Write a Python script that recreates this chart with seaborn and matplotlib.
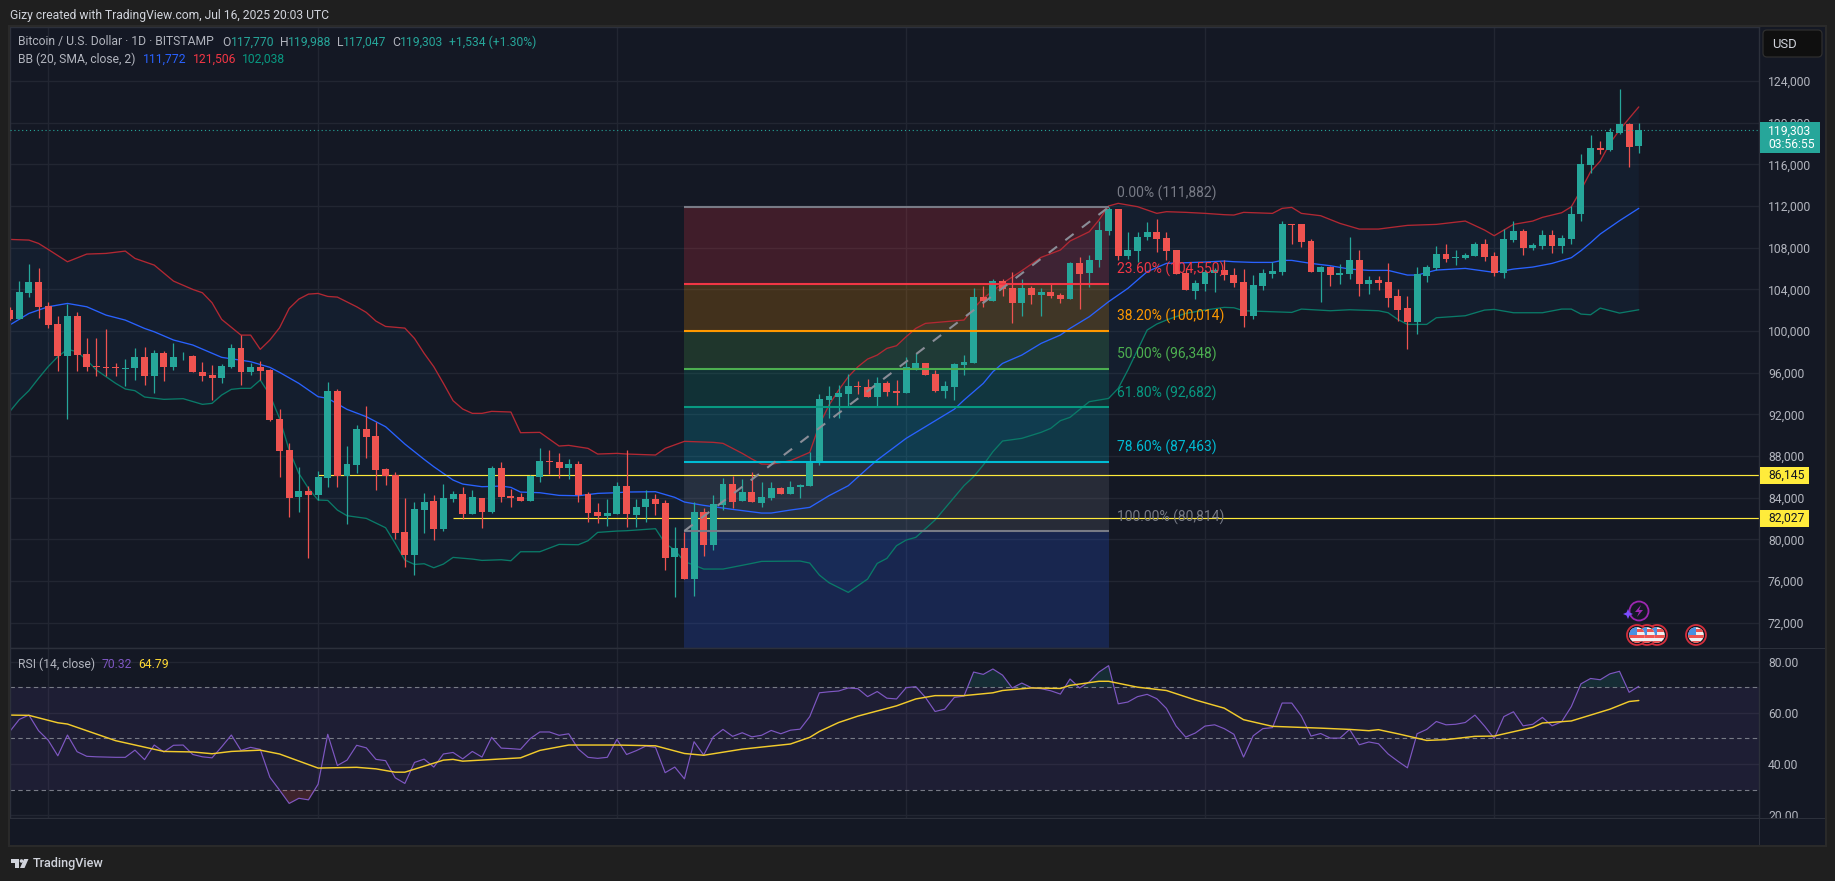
import numpy as np
import pandas as pd
import matplotlib
matplotlib.use('Agg')
import matplotlib.pyplot as plt
from matplotlib.patches import Rectangle, Circle, FancyBboxPatch, Polygon
from matplotlib.transforms import IdentityTransform
import seaborn as sns

# daily candles, day 0 = Jan 28 2025
opens = [102000,101140,103638,104695,102390,100662,97632,101430,97792,96640,96544,96544,96352,96448,97504,95680,97888,96544,97568,97600,
         96064,95776,95488,96544,98368,96064,96544,96256,91552,88576,84064,84640,84256,85888,94240,86080,87136,90592,89920,86752,
         86176,80704,78496,82816,83680,80992,83872,84352,82432,83968,82624,86848,84160,84064,83680,85984,87520,87424,86848,87232,
         84352,82624,82240,82432,85122,82338,83106,83874,83490,78306,79170,76194,82626,79458,83298,85314,83682,84546,83490,83970,
         84930,84354,85026,85122,87419,93371,93659,93947,94715,94619,93659,95003,94235,94043,96443,96923,95867,94235,94619,96731,
         96923,103259,102875,104795,104123,102683,104123,103451,103739,103451,103067,106523,105563,106811,109595,111707,107195,107675,109019,109499,
         108923,107771,105563,103835,104507,105563,105851,105371,104696,101432,104312,105464,105656,110264,110264,108632,105656,106136,105368,105464,
         106808,104504,104888,104696,103352,102200,100856,105272,106040,107384,106999,106999,107192,108344,107192,105560,108728,109592,107960,108152,
         109208,108152,108824,111224,115928,117560,117368,119000,119864,117770]
highs = [102300,104790,106422,106038,102774,101430,102582,101814,99296,99300,100182,96928,97312,98368,98464,98176,98080,98848,97984,97696,
         97024,96736,96832,98752,99606,96928,97120,96352,92512,89248,86944,85120,86560,95104,94432,88960,90976,92800,91264,86848,
         86464,83968,83584,84448,84256,85312,84640,85024,84736,83968,87040,87424,84832,84448,86176,88768,88576,88288,87712,87520,
         84544,83488,83872,85504,88578,83874,84738,84354,83778,81186,80706,83586,83010,84258,85890,86082,85794,86466,85506,85506,
         85026,85602,85314,88386,93947,94715,94811,95867,95195,95387,95579,95195,95291,97499,97883,96923,96251,95195,96923,97691,
         104123,104315,104987,104987,105659,104987,104315,104123,104603,103643,106619,107099,107291,110555,111899,111707,109499,109499,110459,110747,
         109499,107771,106043,104891,105851,106043,106811,106043,105944,105368,105944,106616,110552,110300,110264,108824,106232,106232,106424,109016,
         107768,105272,105272,106520,104024,103352,106136,106328,108152,108344,107768,107480,108536,108824,107576,109784,110552,109784,108440,109688,
         109688,109208,111992,116984,118808,118232,119480,123224,119960,119988]
lows = [101100,101140,103254,101238,100278,96160,91552,96160,96160,95680,95680,95680,94720,95296,94816,94048,95200,96256,97216,96064,
        95200,93376,95008,96448,94816,95776,95296,91360,85984,82144,82624,78208,83776,85024,85024,81472,86368,87808,84736,85216,
        80032,77344,76576,80608,79936,80800,83584,81952,82432,81088,82528,83584,83104,83680,83680,85504,86272,85888,85792,83584,
        81664,81568,81280,82432,81186,81186,81666,82338,77058,74466,76194,74562,78402,78978,82818,83010,83682,83586,83106,83778,
        84354,84354,83970,85122,87131,91643,91643,92795,93947,93659,92795,93755,92891,94043,96251,95771,94139,93563,93371,95771,
        96923,102299,102875,103355,100763,101435,102587,101435,103163,102683,103067,102107,104219,106139,109211,106811,106907,106619,108731,107579,
        106811,105467,103931,103067,103835,103739,104891,104219,100376,101144,103928,105080,105368,108344,108056,105656,102776,104312,104504,104984,
        103352,103544,103928,102296,100952,98264,99704,104696,105848,106616,106328,106904,107192,106712,105272,105080,108536,107288,107768,107864,
        107480,107480,108344,110552,115160,116984,117272,118904,115736,117047]
closes = [101140,103734,104695,102294,100566,97632,101430,97728,96544,96544,96448,96448,96448,97504,95680,97888,96544,97504,97600,96064,
          95680,95488,96640,98368,96064,96544,96160,91456,88480,83968,84640,84256,85984,94240,86080,87232,90592,89824,86656,86080,
          80608,78496,82912,83584,80992,83968,84352,82432,84064,82624,86848,84064,83968,83680,86080,87520,87424,86848,87232,84256,
          82528,82240,82528,85120,82434,83106,83874,83394,78210,79170,76194,82626,79458,83394,85314,83586,84546,83586,84066,84930,
          84354,85026,85218,87426,93467,93755,94043,94715,94619,93659,95003,94139,94043,96539,96923,95771,94235,94715,96827,97019,
          103259,102875,104795,104027,102683,104123,103451,103739,103355,103067,106523,105467,106811,109691,111707,107195,107771,109019,109499,108827,
          107675,105467,103931,104603,105659,105851,105371,104603,101432,104408,105560,105752,110264,110168,108536,105656,106136,105368,105560,106808,
          104504,104888,104600,103160,102008,100856,105464,106136,107384,106904,107096,107288,108344,107096,105560,108824,109592,107960,108248,109208,
          108152,108920,111224,116024,117560,117368,119096,119864,117656,119303]

# Bollinger bands, read at the visible vertices
upper_days = [0,2,3,4,6,8,10,12,13,15,17,19,20,21,22,24,25,26,27,28,29,30,31,32,33,34,36,37,38,39,41,42,43,44,45,46,47,48,49,50,52,53,55,57,58,60,61,63,
              64,67,68,70,73,74,76,77,78,79,81,83,84,85,86,87,88,89,90,91,92,93,94,95,97,99,100,101,103,105,107,109,110,112,113,114,115,117,119,120,122,124,126,
              127,128,131,132,133,134,136,138,140,142,145,148,151,153,154,156,158,159,161,162,163,164,165,166,167,168,169]
upper_vals = [108790,108726,108406,107830,106646,107382,107446,107670,106966,106326,104790,103990,103670,102710,101110,99606,99606,98240,99136,100310,102166,103062,103542,103606,103318,103254,102326,101782,100950,100438,100278,99286,97856,96576,94976,93312,92512,92096,92096,92288,92224,90240,90272,88960,89024,88736,88192,88256,
              88194,88098,88738,89410,89314,89218,88258,87714,87234,87202,87554,88354,91000,92891,94331,95611,96571,97307,97691,98331,98587,99451,100251,100731,100891,101051,102171,103131,104571,105787,107067,107771,108635,109531,110651,111995,112251,111931,111291,111451,111387,111291,111163,
              111128,111384,111288,111768,111864,111288,111064,110328,109784,109784,110136,110232,110552,109688,109144,110232,110552,110904,111352,111928,113528,115288,116312,118008,119288,120408,121506]
basis_days = [0,2,4,6,8,10,12,14,15,17,19,22,25,27,28,30,32,33,35,37,39,41,43,44,46,47,49,51,52,53,55,57,59,61,63,
              64,67,69,70,72,75,78,79,81,83,85,87,89,90,93,95,98,99,101,102,103,105,107,109,110,112,114,116,118,120,124,126,
              127,129,131,132,133,135,137,139,141,143,145,146,148,151,154,156,158,160,162,163,164,165,167,169]
basis_vals = [100566,101686,102326,102646,102326,101526,101046,100246,99926,99136,98656,97472,97056,96512,96032,94976,93696,93536,92480,91776,90816,89152,87680,86976,85696,85312,85056,85120,84992,84544,84480,84224,84192,84416,84480,
              84546,84578,84034,83586,83266,82882,82530,82530,82818,83074,84194,85154,86818,87618,89698,90818,92500,93371,94971,96091,96891,97691,98811,99611,100251,101371,102811,104091,105691,106491,106619,106715,
              106648,106584,106584,106776,106776,106488,106264,105944,105816,105816,105368,105368,105848,106008,105624,105944,106136,106488,107032,107704,108472,109304,110584,111772]
lower_days = [0,1,2,3,4,5,6,7,8,9,11,12,13,14,16,18,20,21,22,23,24,25,26,27,28,29,30,31,32,33,34,35,37,39,40,41,42,43,44,45,46,48,49,51,52,53,55,57,59,60,61,63,
              64,67,68,69,70,71,72,74,77,78,82,83,84,85,87,89,90,91,92,93,94,96,99,100,101,102,103,105,107,108,109,110,112,114,115,116,117,118,119,120,122,124,126,
              127,128,133,134,137,139,142,143,144,145,147,148,151,153,154,156,159,161,162,163,164,165,167,169]
lower_vals = [92256,93376,94272,95456,96576,97536,98240,98016,97216,96256,94976,94432,94272,93664,93440,93504,92960,93056,93856,94400,94496,94496,95296,93856,91616,88576,86336,84896,83776,83744,82816,82272,82016,81120,79616,78016,77600,77664,77280,77632,78272,78112,77984,78048,77952,78816,78816,79520,79488,79872,80672,80800,
              80834,81026,79618,78978,77858,77538,77154,77154,77698,77890,77922,77730,76578,75842,74914,76194,77698,78178,79394,79938,80194,81858,85154,86018,87138,88418,89442,89698,90274,90658,91394,91714,93218,93531,94491,96251,98171,100091,100667,101051,101691,102011,102267,
              102232,101944,101784,102104,101944,102040,101944,101752,101112,100632,100632,101272,101464,102008,102072,101752,101752,102104,102104,101624,101560,102200,101720,102038]

# RSI for every day, its moving average at the visible vertices
rsi_vals = [52.6,57.4,59.1,53.0,49.3,43.2,51.3,44.8,43.0,42.8,42.7,42.6,42.6,45.4,41.7,47.4,44.7,47.3,47.4,43.7,
            42.8,42.4,46.7,51.3,45.3,46.5,45.7,34.8,29.8,24.6,26.6,26.0,32.1,51.6,39.4,41.5,47.3,46.3,41.8,41.3,
            34.6,32.4,40.6,41.9,38.8,43.9,44.5,42.0,44.9,42.7,50.4,46.2,46.0,45.7,49.9,52.5,52.5,51.2,51.8,45.8,
            42.6,42.2,42.6,49.6,43.7,45.2,47.0,46.5,36.6,38.8,34.2,48.7,43.5,50.6,53.5,50.8,52.2,50.6,51.2,53.1,
            51.8,53.2,53.6,58.5,67.8,68.2,68.5,69.7,69.4,66.3,68.3,65.7,65.4,69.8,70.2,66.0,60.5,61.4,66.0,66.5,
            75.9,75.0,77.1,74.7,69.7,71.6,69.8,69.4,68.6,67.3,73.2,69.7,72.1,75.9,78.4,63.5,64.2,66.3,67.2,65.5,
            61.7,54.8,50.5,52.1,54.8,55.3,53.8,51.6,42.7,51.0,53.8,54.2,63.8,63.8,58.7,50.9,51.9,50.1,50.1,53.5,
            47.5,48.6,47.9,43.9,41.1,38.5,51.8,53.5,56.6,55.3,55.5,56.2,59.1,54.8,50.0,58.5,60.4,54.9,55.5,58.2,
            54.9,56.5,62.4,71.3,73.4,72.9,75.2,76.2,68.0,70.32]
rsi_ma_days = [0,2,5,6,11,16,19,21,23,26,28,32,36,38,40,41,45,46,47,53,55,58,63,67,70,72,76,81,83,84,86,88,92,94,96,99,102,103,106,109,110,113,114,117,120,123,126,128,131,136,139,141,142,144,147,149,152,154,158,159,162,166,168,169]
rsi_ma_vals = [59.1,59.0,56.1,55.6,49.1,44.9,44.7,44.0,44.9,45.4,43.9,38.4,38.7,38.1,36.8,36.8,41.5,41.8,41.1,42.4,45.3,47.4,47.4,47.1,44.1,43.4,45.8,47.8,50.4,52.7,56.2,58.7,62.7,65.4,66.7,66.7,67.8,68.7,69.7,69.5,70.7,72.3,72.3,70.0,68.7,65.0,61.8,57.3,54.7,54.0,53.5,53.0,53.4,51.8,49.2,49.5,50.8,50.9,54.3,56.0,56.8,61.4,64.4,64.79]

month_days = [4,32,63,93,124,154]
month_labels = ['Feb','Mar','Apr','May','Jun','Jul']
price_ticks = [72000,76000,80000,84000,88000,92000,96000,100000,104000,108000,112000,116000,120000,124000]
rsi_ticks = [20,40,60,80]

fib_levels = [111882,104550,100014,96348,92682,87463,80814]
fib_names = ['0.00%','23.60%','38.20%','50.00%','61.80%','78.60%','100.00%']
fib_colors = ['#787b86','#f23645','#ff9800','#4caf50','#089981','#00bcd4','#787b86']
fib_fills = ['#f23645','#ff9800','#4caf50','#089981','#00bcd4','#787b86']
fib_start, fib_end = 70, 114
hlines_at = [86145,82027]
hlines_from = [32,46]
last_close = 119303

W, H = 1835, 881
BG = '#141824'
OUTER = '#1f1f1f'
GRID = '#222632'
LINE = '#2c303b'
TXT = '#b2b5be'
GREEN = '#26a69a'
RED = '#ef5350'
FS = 8.7

sns.set_theme(style='darkgrid')
plt.rcParams['font.family'] = ['Roboto', 'DejaVu Sans']

fig = plt.figure(figsize=(W/100, H/100), dpi=100, facecolor=OUTER)


def frac(x0, y0, x1, y1):
    return [x0/W, 1-y1/H, (x1-x0)/W, (y1-y0)/H]


def box(x0, y0, x1, y1, color, z=1):
    fig.add_artist(Rectangle((x0/W, 1-y1/H), (x1-x0)/W, (y1-y0)/H, transform=fig.transFigure,
                             facecolor=color, edgecolor='none', zorder=z))


def label(x, y, s, color=TXT, size=FS, **kw):
    fig.text(x/W, 1-y/H, s, color=color, fontsize=size, va='center', zorder=3, **kw)


ax = fig.add_axes(frac(10, 27, 1759, 648))
rsi_ax = fig.add_axes(frac(10, 648, 1759, 818))
xlim = (0.04, 181.47)

for a in (ax, rsi_ax):
    a.set_facecolor(BG)
    a.set_xlim(xlim)
    a.set_xticks(month_days)
    a.grid(True, color=GRID, lw=1)
    a.set_axisbelow(True)
    a.yaxis.tick_right()
    a.tick_params(length=0, labelcolor=TXT, labelsize=FS, pad=6.5)
    for s in a.spines.values():
        s.set_color(LINE)
        s.set_linewidth(1)

# price pane
ax.set_ylim(69578, 129175)
ax.set_yticks(price_ticks)
ax.set_yticklabels([f'{v:,}' for v in price_ticks])
ax.tick_params(labelbottom=False)

days = np.arange(len(closes))
opens_a, closes_a = np.array(opens), np.array(closes)
cols = np.where(closes_a >= opens_a, GREEN, RED)

# fib zones
for i, c in enumerate(fib_fills):
    ax.fill_between([fib_start, fib_end], fib_levels[i+1], fib_levels[i], color=c, alpha=0.2, lw=0, zorder=1)
ax.fill_between([fib_start, fib_end], 69578, fib_levels[-1], color='#2962ff', alpha=0.2, lw=0, zorder=1)

# bollinger fill and lines
ax.fill(np.r_[upper_days, lower_days[::-1]], np.r_[upper_vals, lower_vals[::-1]], color='#2196f3', alpha=0.05, lw=0, zorder=1.5)
sns.lineplot(x=upper_days, y=upper_vals, ax=ax, color='#b22833', lw=0.95, zorder=2, estimator=None)
sns.lineplot(x=basis_days, y=basis_vals, ax=ax, color='#2962ff', lw=0.95, zorder=2, estimator=None)
sns.lineplot(x=lower_days, y=lower_vals, ax=ax, color='#0a7a68', lw=0.95, zorder=2, estimator=None)

for lvl, start in zip(hlines_at, hlines_from):
    ax.hlines(lvl, start, xlim[1], color='#ffeb3b', lw=0.85, zorder=2.2)

# candles
ax.vlines(days, lows, highs, colors=cols, lw=0.9, zorder=3)
ax.bar(days, np.abs(closes_a-opens_a), bottom=np.minimum(opens_a, closes_a), width=0.72, color=cols, lw=0, zorder=3.1)

ax.hlines(fib_levels, fib_start, fib_end, colors=fib_colors, lw=1.5, zorder=3.5)
ax.plot([fib_start, fib_end], [fib_levels[-1], fib_levels[0]], color='#8a8d97', lw=1.5, ls=(0, (5, 5)), zorder=3.5)
ax.axhline(last_close, color=GREEN, lw=0.8, ls=(0, (1, 2.5)), zorder=3.6)

# rsi pane
rsi_ax.set_ylim(18.9, 85.3)
rsi_ax.set_yticks(rsi_ticks)
rsi_ax.set_yticklabels([f'{v:.2f}' for v in rsi_ticks])
rsi_ax.set_xticklabels(month_labels)
rsi_ax.tick_params(axis='x', pad=5.5)
rsi_ax.axhspan(30, 70, color='#7e57c2', alpha=0.1, lw=0, zorder=1)
for v in (70, 50, 30):
    rsi_ax.axhline(v, color='#787b86', lw=0.8, ls=(0, (4, 3)), zorder=1.5)
rsi_a = np.array(rsi_vals)
rsi_ax.fill_between(days, rsi_a, 70, where=rsi_a > 70, interpolate=True, color=GREEN, alpha=0.15, lw=0, zorder=1.6)
rsi_ax.fill_between(days, rsi_a, 30, where=rsi_a < 30, interpolate=True, color=RED, alpha=0.2, lw=0, zorder=1.6)
sns.lineplot(x=days, y=rsi_a, ax=rsi_ax, color='#7e57c2', lw=0.85, zorder=2, estimator=None)
sns.lineplot(x=rsi_ma_days, y=rsi_ma_vals, ax=rsi_ax, color='#f2cb2c', lw=1.05, zorder=2.1, estimator=None)
for a in (ax, rsi_ax):
    a.set_xlim(xlim)
    a.set_xlabel('')
    a.set_ylabel('')

# frame around the panes
box(10, 818, 1825, 845, BG, z=1)
box(1759, 27, 1825, 845, BG, z=-0.5)
box(10, 817.5, 1825, 819, LINE, z=1.1)
box(1759, 27, 1760, 845, LINE, z=1.1)
box(10, 647.5, 1825, 649, LINE, z=1.1)
box(1825, 27, 1827, 847, '#2a2a2a', z=1.1)
box(8, 845, 1827, 847, '#2a2a2a', z=1.1)
box(8, 25, 10, 847, '#2a2a2a', z=1.1)
box(8, 25, 1827, 27, '#2a2a2a', z=1.1)

# header and legends
label(10, 15, 'Gizy created with TradingView.com, Jul 16, 2025 20:03 UTC', color='#d1d4dc')
label(18, 42, 'Bitcoin / U.S. Dollar · 1D · BITSTAMP')
for x, s, c in [(222, 'O', TXT), (230.5, '117,770', GREEN), (279.5, 'H', TXT), (288, '119,988', GREEN),
                (336.5, 'L', TXT), (343, '117,047', GREEN), (392, 'C', TXT), (400, '119,303', GREEN),
                (449, '+1,534 (+1.30%)', GREEN)]:
    label(x, 42, s, color=c)
label(18, 59, 'BB (20, SMA, close, 2)')
label(143, 59, '111,772', color='#2962ff')
label(192.6, 59, '121,506', color='#f23645')
label(242, 59, '102,038', color='#089981')
label(18, 664, 'RSI (14, close)')
label(102, 664, '70.32', color='#7e57c2')
label(138.5, 664, '64.79', color='#fdd835')

# fib labels
fib_y = [193, 269, 316, 354, 393, 447, 517]
for y, n, lvl, c in zip(fib_y, fib_names, fib_levels, fib_colors):
    label(1117, y, f'{n} ({lvl:,})', color=c, size=10)

# price tags
box(1760, 122, 1820, 153, GREEN, z=2)
label(1768, 131, '119,303', color='white')
label(1768, 144, '03:56:55', color='white')
box(1760, 467, 1809, 484, '#ffeb3b', z=2)
label(1768, 475.5, '86,145', color='#131722')
box(1760, 510, 1809, 527, '#ffeb3b', z=2)
label(1768, 518.5, '82,027', color='#131722')

# USD button
fig.add_artist(FancyBboxPatch((1763, H-57), 59, 27, boxstyle='round,pad=0,rounding_size=4',
                              transform=IdentityTransform(), facecolor='#0f0f0f', edgecolor='#2e2e2e', lw=0.9, zorder=2))
label(1772, 44, 'USD', color='#d1d4dc', size=9.4)

# event icons
ident = IdentityTransform()


def flag(cx, cy):
    Y = H-cy
    fig.add_artist(Circle((cx, Y), 10, transform=ident, facecolor='#131722', edgecolor='#d42e3c', lw=1.3, zorder=4))
    clip = Circle((cx, Y), 7.8, transform=ident)
    parts = [((cx-8, Y-8), 16, 16, '#f0f0f0'), ((cx-8, Y-3), 16, 3, '#ef5350'), ((cx-8, Y-8), 16, 2.5, '#ef5350'),
             ((cx-8, Y+3), 16, 3, '#ef5350'), ((cx-8, Y), 8, 8, '#4a90e2')]
    for xy, w, h, c in parts:
        r = Rectangle(xy, w, h, transform=ident, facecolor=c, edgecolor='none', zorder=4.1)
        fig.add_artist(r)
        r.set_clip_path(clip)


for cx in (1657, 1647, 1637, 1696):
    flag(cx, 635)
fig.add_artist(Circle((1639, H-611), 9.5, transform=ident, facecolor='none', edgecolor='#9c27b0', lw=1.3, zorder=4))
fig.add_artist(Polygon([(1641, H-605), (1635, H-612), (1639, H-612), (1637, H-617), (1643, H-610), (1639, H-610)],
                       transform=ident, facecolor='#9c27b0', edgecolor='none', zorder=4.1))
fig.add_artist(Polygon([(1628, H-609), (1629.5, H-612.5), (1633, H-614), (1629.5, H-615.5), (1628, H-619),
                        (1626.5, H-615.5), (1623, H-614), (1626.5, H-612.5)],
                       transform=ident, facecolor='#7c4dff', edgecolor='none', zorder=4.2))

# tradingview logo
fig.add_artist(Polygon([(10.5, H-859), (19, H-859), (19, H-868), (14.5, H-868), (14.5, H-863), (10.5, H-863)],
                       transform=ident, facecolor='#d1d4dc', edgecolor='none', zorder=3))
fig.add_artist(Circle((21.5, H-861), 1.8, transform=ident, facecolor='#d1d4dc', edgecolor='none', zorder=3))
fig.add_artist(Polygon([(24, H-859), (28.5, H-859), (24.5, H-868), (20, H-868)],
                       transform=ident, facecolor='#d1d4dc', edgecolor='none', zorder=3))
label(33, 863, 'TradingView', color='#d1d4dc', size=9.1, fontweight='medium')

fig.savefig('out.png', dpi=100, facecolor=fig.get_facecolor())
